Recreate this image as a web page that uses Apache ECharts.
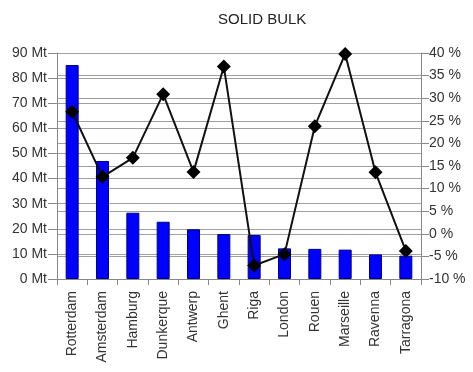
<!DOCTYPE html>
<html><head><meta charset="utf-8">
<script src="https://cdn.jsdelivr.net/npm/echarts@6/dist/echarts.min.js"></script>
<style>html,body{margin:0;padding:0;background:#fff}#c{width:473px;height:372px}</style>
</head><body><div id="c"></div>
<script>
const categories = ['Rotterdam','Amsterdam','Hamburg','Dunkerque','Antwerp','Ghent','Riga','London','Rouen','Marseille','Ravenna','Tarragona'];
const tonnage = [85.2, 47.0, 26.4, 22.8, 19.8, 17.9, 17.5, 12.2, 12.0, 11.7, 9.8, 9.3];
const growth = [27.0, 12.6, 16.8, 30.9, 13.7, 37.0, -7.0, -4.5, 23.8, 39.8, 13.6, -3.8];
const title = 'SOLID BULK';

const chart = echarts.init(document.getElementById('c'), null, {renderer:'canvas'});
const font = 'Liberation Sans, Arial, sans-serif';
chart.setOption({
  animation:false,
  title:{text:title,left:213,top:7,textStyle:{fontFamily:font,fontSize:15,fontWeight:'normal',color:'#222'}},
  grid:{left:57,right:52,top:53,bottom:93,containLabel:false},
  xAxis:{type:'category',data:categories,boundaryGap:true,
    axisLine:{lineStyle:{color:'#888',width:1}},
    axisTick:{show:true,length:6,lineStyle:{color:'#888'}},
    axisLabel:{rotate:90,margin:12,fontFamily:font,fontSize:14,color:'#333'}},
  yAxis:[
    {type:'value',min:0,max:90,interval:10,position:'left',
     axisLine:{show:true,lineStyle:{color:'#888'}},
     axisTick:{show:true,length:9,lineStyle:{color:'#888'}},
     splitLine:{show:true,lineStyle:{color:'#a0a0a0',width:1}},
     axisLabel:{formatter:'{value} Mt',margin:10,fontFamily:font,fontSize:14,color:'#333'}},
    {type:'value',min:-10,max:40,interval:5,position:'right',
     axisLine:{show:true,lineStyle:{color:'#888'}},
     axisTick:{show:true,length:8,lineStyle:{color:'#888'}},
     splitLine:{show:true,lineStyle:{color:'#a0a0a0',width:1}},
     axisLabel:{formatter:'{value} %',margin:8,fontFamily:font,fontSize:14,color:'#333'}}
  ],
  series:[
    {type:'bar',data:tonnage,yAxisIndex:0,barWidth:13,
     itemStyle:{color:'#0000ff',borderColor:'#000080',borderWidth:1}},
    {type:'line',data:growth,yAxisIndex:1,symbol:'diamond',symbolSize:14,
     lineStyle:{color:'#111',width:2},itemStyle:{color:'#000'}}
  ]
});
</script></body></html>
